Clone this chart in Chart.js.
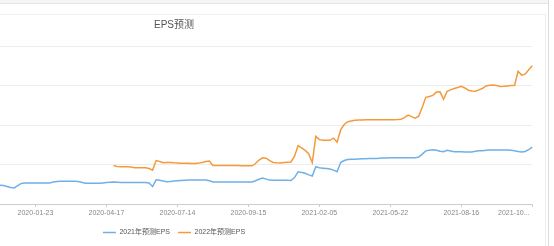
<!DOCTYPE html>
<html>
<head>
<meta charset="utf-8">
<script src="https://cdn.jsdelivr.net/npm/chart.js@4.4.0/dist/chart.umd.min.js"></script>
<style>
  html, body { margin: 0; padding: 0; background: #fff; width: 554px; height: 246px; overflow: hidden; }
  #topbar { position: absolute; left: 0; top: 0; width: 548px; height: 3px; background: #f5f5f5; border-bottom: 1px solid #e4e4e4; }
  #card { position: absolute; left: -2px; top: 14px; width: 546px; height: 240px; border: 1px solid #efefef; }
  #edge { position: absolute; left: 548px; top: 0; width: 1px; height: 246px; background: #dcdcdc; }
  #wrap { position: absolute; left: -186px; top: 0; width: 754px; height: 246px; }
</style>
</head>
<body>
<div id="topbar"></div>
<div id="card"></div>
<div id="edge"></div>
<div id="wrap"><canvas id="chart"></canvas></div>
<script>
  const seriesNames = ["2021年预测EPS", "2022年预测EPS"];
  const tickDates = ["2020-01-23", "2020-04-17", "2020-07-14", "2020-09-15",
                     "2021-02-05", "2021-05-22", "2021-08-16", "2021-10..."];
  const firstTick = 10;
  const tickEvery = 20;

  const eps2021 = [
    0.475, 0.468, 0.445, 0.420, 0.408, 0.463, 0.520, 0.533, 0.533, 0.533,
    0.533, 0.533, 0.533, 0.533, 0.533, 0.555, 0.570, 0.575, 0.575, 0.575,
    0.575, 0.575, 0.570, 0.550, 0.525, 0.525, 0.525, 0.525, 0.525, 0.533,
    0.543, 0.550, 0.558, 0.550, 0.543, 0.543, 0.543, 0.543, 0.543, 0.543,
    0.543, 0.543, 0.530, 0.443, 0.613, 0.600, 0.580, 0.563, 0.570, 0.580,
    0.590, 0.595, 0.600, 0.605, 0.608, 0.608, 0.608, 0.608, 0.608, 0.588,
    0.558, 0.558, 0.558, 0.558, 0.558, 0.558, 0.558, 0.558, 0.558, 0.558,
    0.558, 0.558, 0.588, 0.625, 0.655, 0.630, 0.605, 0.600, 0.600, 0.600,
    0.600, 0.600, 0.595, 0.668, 0.813, 0.795, 0.778, 0.738, 0.708, 0.943,
    0.918, 0.908, 0.900, 0.888, 0.858, 0.818, 1.050, 1.100, 1.125, 1.130,
    1.133, 1.138, 1.143, 1.145, 1.150, 1.150, 1.155, 1.160, 1.163, 1.165,
    1.168, 1.168, 1.168, 1.168, 1.168, 1.168, 1.168, 1.168, 1.188, 1.263,
    1.345, 1.363, 1.373, 1.363, 1.338, 1.325, 1.358, 1.343, 1.325, 1.323,
    1.320, 1.318, 1.318, 1.318, 1.335, 1.345, 1.350, 1.358, 1.365, 1.368,
    1.368, 1.368, 1.368, 1.368, 1.363, 1.350, 1.330, 1.318, 1.330, 1.375,
    1.438
  ];

  const eps2022 = [
    null, null, null, null, null, null, null, null, null, null,
    null, null, null, null, null, null, null, null, null, null,
    null, null, null, null, null, null, null, null, null, null,
    null, null, 0.975, 0.950, 0.943, 0.943, 0.943, 0.938, 0.918, 0.918,
    0.918, 0.918, 0.900, 0.858, 1.100, 1.075, 1.043, 1.048, 1.050, 1.043,
    1.038, 1.033, 1.030, 1.030, 1.028, 1.025, 1.035, 1.050, 1.075, 1.088,
    0.975, 0.975, 0.975, 0.975, 0.975, 0.975, 0.975, 0.972, 0.970, 0.970,
    0.970, 0.968, 1.025, 1.113, 1.168, 1.160, 1.100, 1.050, 1.043, 1.038,
    1.050, 1.058, 1.063, 1.210, 1.475, 1.418, 1.358, 1.275, 1.050, 1.713,
    1.630, 1.613, 1.613, 1.613, 1.668, 1.563, 1.875, 2.013, 2.083, 2.100,
    2.118, 2.125, 2.128, 2.133, 2.133, 2.133, 2.133, 2.133, 2.133, 2.133,
    2.133, 2.135, 2.140, 2.148, 2.188, 2.250, 2.213, 2.175, 2.225, 2.450,
    2.700, 2.720, 2.750, 2.833, 2.838, 2.650, 2.850, 2.888, 2.925, 2.950,
    2.980, 2.938, 2.880, 2.863, 2.855, 2.888, 2.930, 2.988, 3.005, 3.015,
    3.000, 2.975, 2.980, 2.988, 2.998, 3.000, 3.358, 3.263, 3.288, 3.400,
    3.500
  ];

  const lastIndex = eps2021.length - 1;
  // category labels: a date every tickEvery points, empty otherwise
  const labels = eps2021.map((v, i) => {
    const k = (i - firstTick) / tickEvery;
    return i >= firstTick && Number.isInteger(k) ? tickDates[k] : "";
  });

  Chart.defaults.font.family = '"Liberation Sans", "Noto Sans CJK SC", sans-serif';

  new Chart(document.getElementById("chart"), {
    type: "line",
    data: {
      labels: labels,
      datasets: [
        {
          label: seriesNames[0],
          data: eps2021,
          borderColor: "#6fb0e8",
          backgroundColor: "#6fb0e8",
          borderWidth: 1.5,
          pointRadius: 0,
          tension: 0,
        },
        {
          label: seriesNames[1],
          data: eps2022,
          borderColor: "#f39b3c",
          backgroundColor: "#f39b3c",
          borderWidth: 1.5,
          pointRadius: 0,
          tension: 0,
        },
      ],
    },
    options: {
      responsive: true,
      maintainAspectRatio: false,
      animation: false,
      layout: { padding: { left: 0, right: 34, top: 0, bottom: 0 } },
      plugins: {
        title: {
          display: true,
          text: "EPS预测",
          color: "#555",
          font: { size: 10, weight: "normal" },
          padding: { top: 19, bottom: 15 },
        },
        legend: {
          position: "bottom",
          labels: {
            usePointStyle: true,
            pointStyle: "line",
            pointStyleWidth: 13,
            padding: 8,
            color: "#555",
            font: { size: 7 },
          },
        },
        tooltip: { enabled: false },
      },
      scales: {
        x: {
          grid: {
            drawOnChartArea: false,
            drawTicks: true,
            tickLength: 3,
            color: (ctx) => (labels[ctx.index] ? "#cccccc" : "rgba(0,0,0,0)"),
          },
          border: { display: true, color: "#cccccc" },
          ticks: {
            autoSkip: false,
            maxRotation: 0,
            minRotation: 0,
            padding: 1.5,
            color: "#888",
            font: { size: 7 },
            callback: (v, i) => (i === lastIndex ? labels[i] + " ".repeat(19) : labels[i]),
          },
          afterFit: (scale) => { scale.height = 17; },
        },
        y: {
          min: 0,
          max: 4,
          ticks: { display: false, stepSize: 1 },
          grid: { color: "#ececec", drawTicks: false },
          border: { display: false },
          afterFit: (scale) => { scale.width = 186; },
        },
      },
    },
  });
</script>
</body>
</html>
